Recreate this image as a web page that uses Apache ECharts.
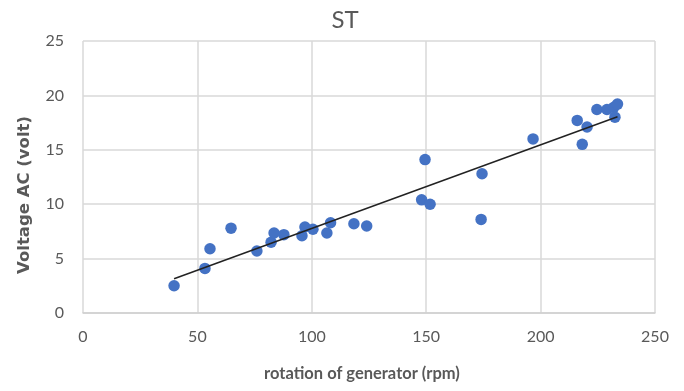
<!DOCTYPE html>
<html><head><meta charset="utf-8">
<script src="https://cdn.jsdelivr.net/npm/echarts@6/dist/echarts.min.js"></script>
<style>html,body{margin:0;padding:0;background:#fff}#c{width:684px;height:391px}</style>
</head><body><div id="c"></div>
<script>
var rpm = [39.8, 53.3, 55.5, 64.7, 76, 82.2, 83.5, 87.8, 95.7, 97, 100.5, 106.6, 108.2, 118.4, 124, 148, 149.5, 151.7, 174, 174.4, 196.7, 216, 218.2, 220.3, 224.6, 229, 232, 232.5, 233.6];
var volt = [2.5, 4.1, 5.9, 7.8, 5.7, 6.5, 7.35, 7.2, 7.1, 7.9, 7.7, 7.35, 8.3, 8.2, 8.0, 10.4, 14.1, 10.0, 8.6, 12.8, 16.0, 17.7, 15.5, 17.1, 18.7, 18.7, 18.9, 18.0, 19.2];
var xTicks = [0, 50, 100, 150, 200, 250];
var yTicks = [0, 5, 10, 15, 20, 25];

var pts = rpm.map(function(x, i){ return [x, volt[i]]; });
// least-squares linear trendline computed from the data
var n = rpm.length, sx=0, sy=0, sxx=0, sxy=0;
for (var i=0;i<n;i++){ sx+=rpm[i]; sy+=volt[i]; sxx+=rpm[i]*rpm[i]; sxy+=rpm[i]*volt[i]; }
var slope = (n*sxy - sx*sy)/(n*sxx - sx*sx);
var icpt = (sy - slope*sx)/n;
var xmin = Math.min.apply(null, rpm), xmax = Math.max.apply(null, rpm);
var trend = [[xmin, icpt+slope*xmin],[xmax, icpt+slope*xmax]];

var chart = echarts.init(document.getElementById('c'));
var font = 'Lato, "Liberation Sans", sans-serif';
chart.setOption({
  animation:false,
  title:{text:'ST', left: 340, top: 3, textAlign:'center', textStyle:{fontFamily:font, fontSize:24, fontWeight:'normal', color:'#595959'}},
  grid:{left:83, right:29, top:41, bottom:78},
  xAxis:{type:'value', min:xTicks[0], max:xTicks[xTicks.length-1], interval:50,
    name:'rotation of generator (rpm)', nameLocation:'middle', nameGap:52,
    nameTextStyle:{fontFamily:font, fontSize:16.5, fontWeight:'bold', color:'#595959', padding:[0,14,0,0]},
    axisLine:{show:true, lineStyle:{color:'#d0d0d0', width:1.5}}, axisTick:{show:false},
    axisLabel:{fontFamily:font, fontSize:16, color:'#595959', margin:16},
    splitLine:{show:true, lineStyle:{color:'#d9d9d9', width:1.5}}},
  yAxis:{type:'value', min:yTicks[0], max:yTicks[yTicks.length-1], interval:5,
    name:'Voltage AC (volt)', nameLocation:'middle', nameGap:50,
    nameTextStyle:{fontFamily:'"DejaVu Sans", sans-serif', fontSize:16.5, fontWeight:'bold', color:'#595959', padding:[0,36,0,0]},
    axisLine:{show:false}, axisTick:{show:false},
    axisLabel:{fontFamily:font, fontSize:16, color:'#595959', margin:19},
    splitLine:{show:true, lineStyle:{color:'#d9d9d9', width:1.5}}},
  series:[
    {type:'scatter', data:pts, symbolSize:11.5, itemStyle:{color:'#4472c4', opacity:1}, z:2},
    {type:'line', data:trend, symbol:'none', lineStyle:{color:'#222', width:1.5}, z:3}
  ]
});
</script></body></html>
